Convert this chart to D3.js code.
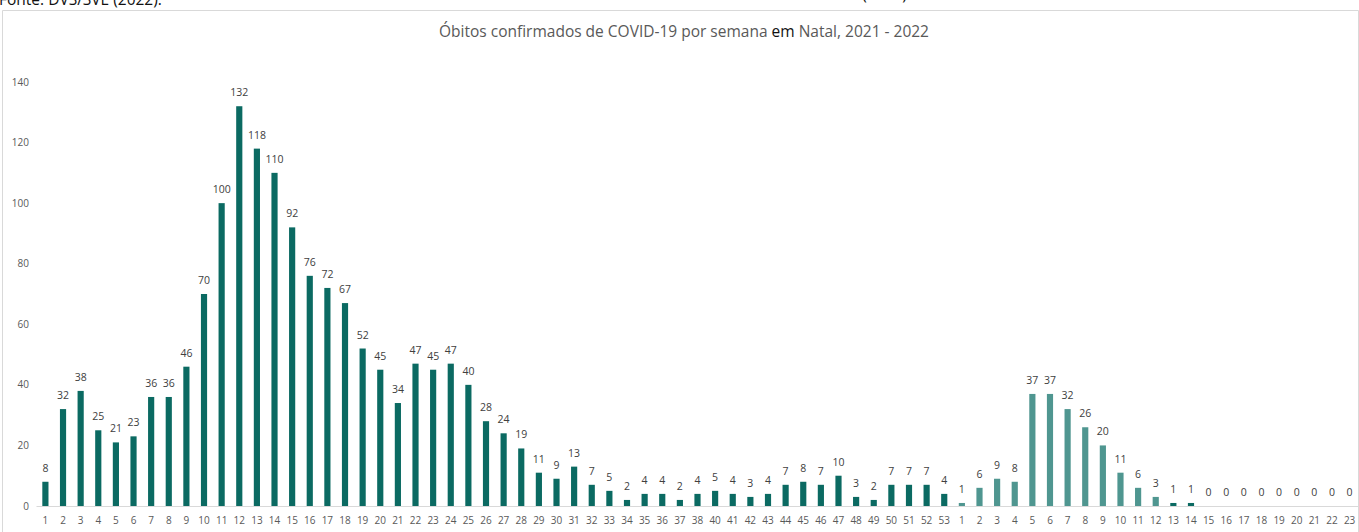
<!DOCTYPE html>
<html>
<head>
<meta charset="utf-8">
<script src="https://cdn.jsdelivr.net/npm/d3@7"></script>
<style>
  body { margin: 0; background: #fff; }
  svg { display: block; font-family: "Open Sans", "Noto Sans", sans-serif; }
</style>
</head>
<body>
<script>
// semanas epidemiologicas (2021 sem a semana 39, depois 2022)
var weeks2021 = [1,2,3,4,5,6,7,8,9,10,11,12,13,14,15,16,17,18,19,20,21,22,23,24,25,26,
  27,28,29,30,31,32,33,34,35,36,37,38,40,41,42,43,44,45,46,47,48,49,50,51,52,53];
var deaths2021 = [8,32,38,25,21,23,36,36,46,70,100,132,118,110,92,76,72,67,52,45,34,47,45,47,40,28,
  24,19,11,9,13,7,5,2,4,4,2,4,5,4,3,4,7,8,7,10,3,2,7,7,7,4];
var weeks2022 = [1,2,3,4,5,6,7,8,9,10,11,12,13,14,15,16,17,18,19,20,21,22,23];
var deaths2022 = [1,6,9,8,37,37,32,26,20,11,6,3,1,1,0,0,0,0,0,0,0,0,0];
// semanas de 2022 com a cor mais clara
var lightWeeks2022 = [1,2,3,4,5,6,7,8,9,10,11,12];
var yTicks = [0,20,40,60,80,100,120,140];

var W = 1359, H = 532;
var dark = "#0b6a62", light = "#4f9690";

var data = [];
weeks2021.forEach(function(w, i) {
  data.push({key: "2021-" + w, week: w, value: deaths2021[i], color: dark});
});
weeks2022.forEach(function(w, i) {
  data.push({key: "2022-" + w, week: w, value: deaths2022[i],
    color: lightWeeks2022.indexOf(w) >= 0 ? light : dark});
});

var svg = d3.select("body").append("svg")
  .attr("width", W).attr("height", H);

// texto cortado no topo (legenda da figura anterior)
svg.append("text").attr("x", -1).attr("y", 5)
  .attr("font-size", 15.5).attr("fill", "#111")
  .text("Fonte: DVS/SVE (2022).");
svg.append("text").attr("x", 748).attr("y", 0)
  .attr("font-size", 15.5).attr("fill", "#111")
  .text("Fonte: DVS/SVE (2022).");

// moldura do grafico
svg.append("path")
  .attr("d", "M2.5," + H + "V10.5H1358.5V" + H)
  .attr("fill", "none").attr("stroke", "#d9d9d9");

var title = svg.append("text")
  .attr("x", 684).attr("y", 37)
  .attr("text-anchor", "middle")
  .attr("font-size", 15.5).attr("fill", "#595959");
title.append("tspan").text("Óbitos confirmados de COVID-19 por semana ");
title.append("tspan").attr("fill", "#111").text("em");
title.append("tspan").text(" Natal, 2021 - 2022");

var x = d3.scaleBand()
  .domain(data.map(function(d) { return d.key; }))
  .range([36.5, 1358.5])
  .paddingInner(0.65).paddingOuter(0.33);

var y = d3.scaleLinear().domain([0, 140]).range([506, 82]);

// eixo y (so os numeros)
svg.append("g")
  .selectAll("text")
  .data(yTicks)
  .enter().append("text")
  .attr("x", 29).attr("y", function(d) { return y(d); })
  .attr("dy", "0.35em").attr("text-anchor", "end")
  .attr("font-size", 10).attr("fill", "#595959")
  .text(function(d) { return d; });

// barras
svg.append("g")
  .selectAll("rect")
  .data(data)
  .enter().append("rect")
  .attr("x", function(d) { return x(d.key); })
  .attr("y", function(d) { return y(d.value); })
  .attr("width", x.bandwidth())
  .attr("height", function(d) { return y(0) - y(d.value); })
  .attr("fill", function(d) { return d.color; });

// linha do zero
svg.append("line")
  .attr("x1", 36.5).attr("x2", 1358.5)
  .attr("y1", y(0) + 0.5).attr("y2", y(0) + 0.5)
  .attr("stroke", "#d9d9d9");

// rotulos de valor
svg.append("g")
  .selectAll("text")
  .data(data)
  .enter().append("text")
  .attr("x", function(d) { return x(d.key) + x.bandwidth() / 2; })
  .attr("y", function(d) { return y(d.value) - 10; })
  .attr("text-anchor", "middle")
  .attr("font-size", 10.5).attr("fill", "#404040")
  .text(function(d) { return d.value; });

// rotulos das semanas
svg.append("g")
  .selectAll("text")
  .data(data)
  .enter().append("text")
  .attr("x", function(d) { return x(d.key) + x.bandwidth() / 2; })
  .attr("y", 524)
  .attr("text-anchor", "middle")
  .attr("font-size", 10).attr("fill", "#595959")
  .text(function(d) { return d.week; });
</script>
</body>
</html>
